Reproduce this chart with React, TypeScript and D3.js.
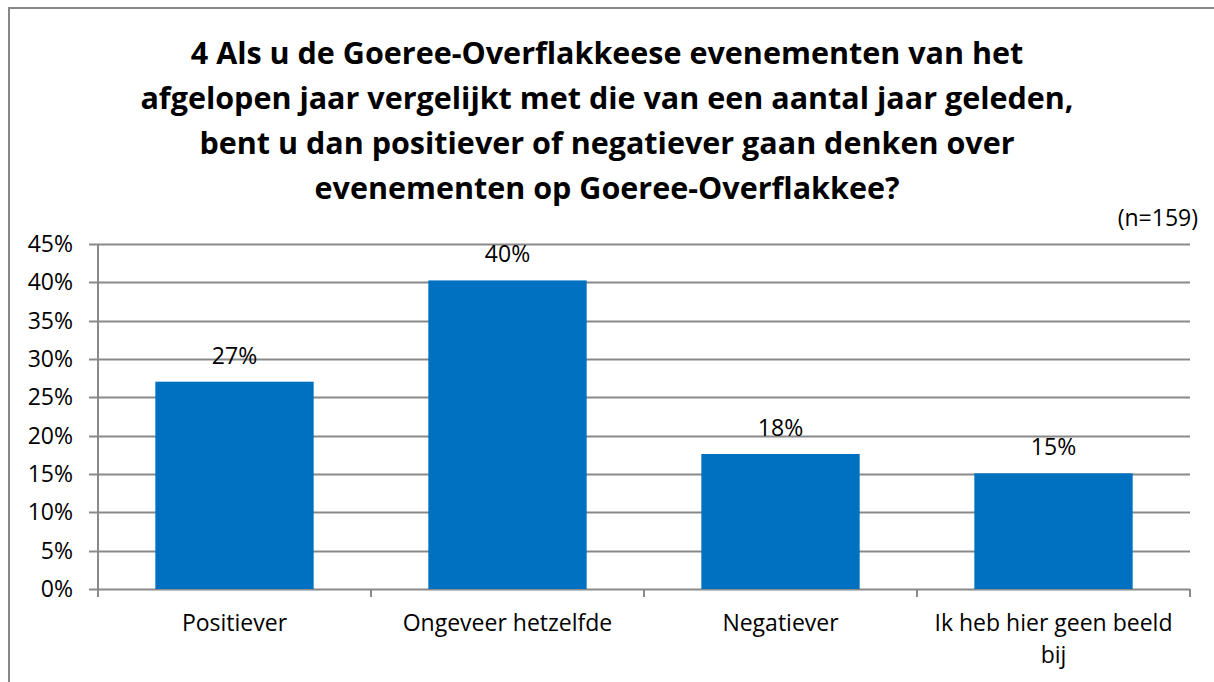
import * as d3 from "d3";
import { useEffect, useRef } from "react";

const categories = ["Positiever", "Ongeveer hetzelfde", "Negatiever", "Ik heb hier geen beeld bij"];
const values = [0.2704, 0.4025, 0.1761, 0.1509];
const labels = ["27%", "40%", "18%", "15%"];
const yTicks = [0, 0.05, 0.1, 0.15, 0.2, 0.25, 0.3, 0.35, 0.4, 0.45];
const titleLines = [
  "4 Als u de Goeree-Overflakkeese evenementen van het",
  "afgelopen jaar vergelijkt met die van een aantal jaar geleden,",
  "bent u dan positiever of negatiever gaan denken over",
  "evenementen op Goeree-Overflakkee?",
];
const note = "(n=159)";

const W = 1214;
const H = 682;
const font = "'Open Sans', 'Noto Sans', sans-serif";

function App() {
  const svgRef = useRef<SVGSVGElement | null>(null);

  useEffect(() => {
    const svg = d3.select(svgRef.current);
    svg.selectAll("*").remove();

    const left = 98;
    const right = 1190;
    const top = 244;
    const bottom = 589;

    const x = d3.scaleBand().domain(categories).range([left, right]).paddingInner(0.42).paddingOuter(0.21);
    const y = d3.scaleLinear().domain([0, 0.45]).range([bottom, top]);
    const band = d3.scaleBand().domain(categories).range([left, right]);

    // outer border
    svg.append("rect")
      .attr("x", 9).attr("y", 8)
      .attr("width", W + 20).attr("height", H + 20)
      .attr("fill", "white").attr("stroke", "#878787").attr("stroke-width", 2);

    // title
    svg.append("text")
      .attr("text-anchor", "middle")
      .style("font-family", font).style("font-weight", "bold").style("font-size", "30.5px")
      .attr("fill", "#000")
      .selectAll("tspan")
      .data(titleLines)
      .join("tspan")
      .attr("x", 607)
      .attr("y", (d, i) => 64 + i * 45)
      .text((d) => d);

    svg.append("text")
      .attr("x", 1198).attr("y", 226)
      .attr("text-anchor", "end")
      .style("font-family", font).style("font-size", "23px")
      .text(note);

    // gridlines + y ticks
    svg.append("g")
      .selectAll("line")
      .data(yTicks)
      .join("line")
      .attr("x1", left - 9).attr("x2", right)
      .attr("y1", (d) => Math.round(y(d)) + 0.5).attr("y2", (d) => Math.round(y(d)) + 0.5)
      .attr("stroke", "#898989").attr("stroke-width", 2);

    svg.append("g")
      .selectAll("text")
      .data(yTicks)
      .join("text")
      .attr("x", 73)
      .attr("y", (d) => y(d) + 8)
      .attr("text-anchor", "end")
      .style("font-family", font).style("font-size", "23px")
      .text((d) => d3.format(".0%")(d));

    // y axis line
    svg.append("line")
      .attr("x1", left).attr("x2", left).attr("y1", top).attr("y2", bottom + 8)
      .attr("stroke", "#898989").attr("stroke-width", 2);

    // category ticks
    const cutPoints = categories.map((c) => band(c) as number).concat([right]);
    svg.append("g")
      .selectAll("line")
      .data(cutPoints)
      .join("line")
      .attr("x1", (d) => d).attr("x2", (d) => d)
      .attr("y1", bottom).attr("y2", bottom + 8)
      .attr("stroke", "#898989").attr("stroke-width", 2);

    // bars
    svg.append("g")
      .selectAll("rect")
      .data(values)
      .join("rect")
      .attr("x", (d, i) => x(categories[i]) as number)
      .attr("width", x.bandwidth())
      .attr("y", (d) => y(d))
      .attr("height", (d) => bottom - y(d))
      .attr("fill", "#0070C0");

    // value labels
    svg.append("g")
      .selectAll("text")
      .data(values)
      .join("text")
      .attr("x", (d, i) => (x(categories[i]) as number) + x.bandwidth() / 2)
      .attr("y", (d) => y(d) - 18)
      .attr("text-anchor", "middle")
      .style("font-family", font).style("font-size", "23px")
      .text((d, i) => labels[i]);

    // category labels (wrapped)
    const wrap = (s: string) => (s.length > 22 ? [s.slice(0, s.lastIndexOf(" ")), s.slice(s.lastIndexOf(" ") + 1)] : [s]);
    svg.append("g")
      .selectAll("text")
      .data(categories)
      .join("text")
      .attr("text-anchor", "middle")
      .style("font-family", font).style("font-size", "23px")
      .each(function (d) {
        d3.select(this)
          .selectAll("tspan")
          .data(wrap(d))
          .join("tspan")
          .attr("x", (band(d) as number) + band.bandwidth() / 2)
          .attr("y", (t, i) => 631 + i * 32)
          .text((t) => t);
      });
  }, []);

  return (
    <svg ref={svgRef} width={W} height={H} style={{ display: "block", position: "absolute", left: 0, top: 0 }} />
  );
}

export default App;
